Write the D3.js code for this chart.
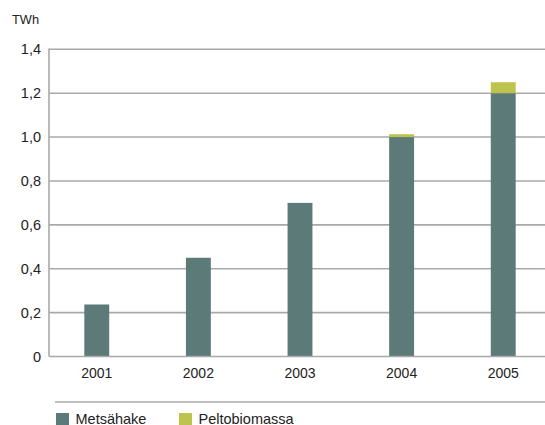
<!DOCTYPE html>
<html>
<head>
<meta charset="utf-8">
<script src="https://cdn.jsdelivr.net/npm/d3@7"></script>
<style>
  html, body { margin: 0; padding: 0; background: #fff; }
  svg { display: block; font-family: "Liberation Sans", Arial, sans-serif; }
</style>
</head>
<body>
<svg id="chart" width="545" height="425"></svg>
<script>
// Energy use of forest chips and field biomass, TWh
const years = ["2001", "2002", "2003", "2004", "2005"];
const metsahake = [0.237, 0.45, 0.70, 1.0, 1.2];
const peltobiomassa = [0, 0, 0, 0.013, 0.05];
const seriesNames = ["Metsähake", "Peltobiomassa"];
const seriesColors = ["#5b7a78", "#bcc44e"];
const yTicks = [0, 0.2, 0.4, 0.6, 0.8, 1.0, 1.2, 1.4];
const unitLabel = "TWh";

const svg = d3.select("#chart");
const axisX = 49;

const x = d3.scaleBand().domain(years).range([46, 554]).paddingInner(0.755).paddingOuter(0.377);
const y = d3.scaleLinear().domain([0, 1.4]).range([356.5, 49.3]);

const fmt = v => d3.format(".1f")(v).replace(".", ",");

// horizontal gridlines
svg.append("g").selectAll("line").data(yTicks.filter(t => t > 0)).join("line")
  .attr("x1", axisX).attr("x2", 545)
  .attr("y1", d => y(d)).attr("y2", d => y(d))
  .attr("stroke", "#a9a9ab").attr("stroke-width", 1.6);

// y tick labels
svg.append("g").selectAll("text").data(yTicks).join("text")
  .attr("x", 41).attr("y", d => y(d) + 5)
  .attr("text-anchor", "end")
  .attr("font-size", 14.5).attr("fill", "#222")
  .text(d => d === 0 ? "0" : fmt(d));

// unit
svg.append("text").attr("x", 12).attr("y", 24)
  .attr("font-size", 12.8).attr("fill", "#222").text(unitLabel);

// stacked bars
const rows = years.map((yr, i) => ({ year: yr, m: metsahake[i], p: peltobiomassa[i] }));
const stack = d3.stack().keys(["m", "p"])(rows);
svg.append("g").selectAll("g").data(stack).join("g")
  .attr("fill", (d, i) => seriesColors[i])
  .selectAll("rect").data(d => d).join("rect")
  .attr("x", d => x(d.data.year))
  .attr("width", x.bandwidth())
  .attr("y", d => y(d[1]))
  .attr("height", d => y(d[0]) - y(d[1]));

// axis lines
svg.append("line").attr("x1", axisX).attr("x2", axisX).attr("y1", y(1.4) - 0.8).attr("y2", y(0))
  .attr("stroke", "#a9a9ab").attr("stroke-width", 1.6);
svg.append("line").attr("x1", axisX).attr("x2", 545).attr("y1", y(0)).attr("y2", y(0))
  .attr("stroke", "#a9a9ab").attr("stroke-width", 1.6);

// x labels
svg.append("g").selectAll("text").data(years).join("text")
  .attr("x", d => x(d) + x.bandwidth() / 2).attr("y", 378)
  .attr("text-anchor", "middle")
  .attr("font-size", 14).attr("fill", "#222")
  .text(d => d);

// legend
svg.append("line").attr("x1", 55).attr("x2", 545).attr("y1", 402).attr("y2", 402)
  .attr("stroke", "#a9a9ab").attr("stroke-width", 1.6);
const legendX = [56, 179];
const lg = svg.append("g").selectAll("g").data(seriesNames).join("g")
  .attr("transform", (d, i) => `translate(${legendX[i]},0)`);
lg.append("rect").attr("x", 0).attr("y", 413).attr("width", 13).attr("height", 12)
  .attr("fill", (d, i) => seriesColors[i]);
lg.append("text").attr("x", 19.5).attr("y", 423.5)
  .attr("font-size", 14.5).attr("fill", "#222").text(d => d);
</script>
</body>
</html>
